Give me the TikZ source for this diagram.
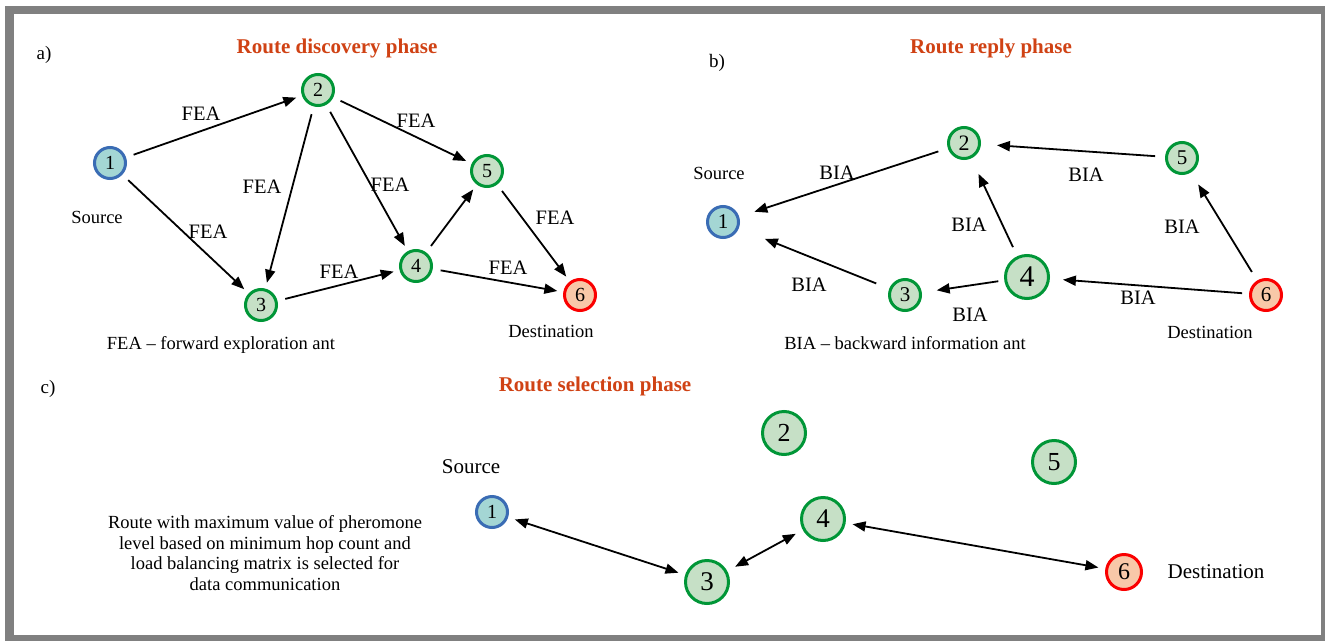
\documentclass[tikz,border=0pt]{standalone}
\usepackage{fontspec}
\setmainfont{LiberationSerif}[Extension=.ttf, UprightFont=*-Regular, BoldFont=*-Bold, ItalicFont=*-Italic, BoldItalicFont=*-BoldItalic]
\usetikzlibrary{arrows.meta}
\definecolor{framegray}{RGB}{128,128,128}
\definecolor{titlered}{RGB}{208,66,20}
\definecolor{gline}{RGB}{0,150,55}
\definecolor{gfill}{RGB}{198,224,198}
\definecolor{bline}{RGB}{58,108,180}
\definecolor{bfill}{RGB}{164,214,212}
\definecolor{rline}{RGB}{250,0,0}
\definecolor{rfill}{RGB}{248,200,168}
\begin{document}
\begin{tikzpicture}[x=1pt,y=-1pt,
  fs/.style={font=\fontsize{#1}{#1}\selectfont},
  nd/.style={circle, line width=3pt, inner sep=0pt, minimum size=#1},
  relay/.style={nd=#1, draw=gline, fill=gfill},
  srcnode/.style={nd=#1, draw=bline, fill=bfill},
  dstnode/.style={nd=#1, draw=rline, fill=rfill},
  ant/.style={line width=1.8pt, -{Triangle[length=13pt,width=10pt]}},
  route/.style={line width=1.8pt, {Triangle[length=13pt,width=10pt]}-{Triangle[length=13pt,width=10pt]}, shorten <=7pt, shorten >=7pt},
  lbl/.style={fs=20.5},
  txt/.style={fs=18.5},
  phase/.style={font=\fontsize{21}{25}\selectfont\bfseries, text=titlered}]

% frame
\useasboundingbox (0,0) rectangle (1325,640);
\fill[framegray] (5,6) rectangle (1330,645);
\fill[white] (14,14) rectangle (1321,635);

% ---------- a) route discovery ----------
\node[txt, fs=19] (la) at (44,55) {a)};
\node[phase] (ta) at (337,48) {Route discovery phase};
\node[srcnode=31, fs=20] (a1) at (110,163) {1};
\node[relay=31, fs=20] (a2) at (318,90) {2};
\node[relay=31, fs=20] (a3) at (261,305) {3};
\node[relay=31, fs=20] (a4) at (416,266) {4};
\node[relay=31, fs=20] (a5) at (487,171) {5};
\node[dstnode=31, fs=20] (a6) at (580,295) {6};
\node[txt] (asrc) at (97,217) {Source};
\node[txt] (adst) at (551,331) {Destination};
\node[txt] (akey) at (221,345) {FEA -- forward exploration ant};

\begin{scope}[shorten <=8pt, shorten >=6pt]
\draw[ant] (a1) -- (a2);
\draw[ant] (a2) -- (a5);
\draw[ant] (a2) -- (a3);
\draw[ant] (a2) -- (a4);
\draw[ant] (a1) -- (a3);
\draw[ant] (a3) -- (a4);
\draw[ant] (a4) -- (a5);
\draw[ant] (a4) -- (a6);
\draw[ant] (a5) -- (a6);
\end{scope}
\node[lbl] (f12) at (201,114) {FEA};
\node[lbl] (f25) at (416,121) {FEA};
\node[lbl] (f23) at (262,187) {FEA};
\node[lbl] (f24) at (390,185) {FEA};
\node[lbl] (f13) at (208,232) {FEA};
\node[lbl] (f34) at (339,272) {FEA};
\node[lbl] (f46) at (508,268) {FEA};
\node[lbl] (f56) at (555,218) {FEA};

% ---------- b) route reply ----------
\node[txt, fs=19] (lb) at (717,63) {b)};
\node[phase] (tb) at (991,48) {Route reply phase};
\node[srcnode=31, fs=21] (b1) at (723,222) {1};
\node[relay=31, fs=22] (b2) at (964,143) {2};
\node[relay=31, fs=21] (b3) at (905,295) {3};
\node[relay=43, fs=30] (b4) at (1027,277) {4};
\node[relay=31, fs=21] (b5) at (1182,158) {5};
\node[dstnode=31, fs=21] (b6) at (1266,295) {6};
\node[txt] (bsrc) at (719,173) {Source};
\node[txt] (bdst) at (1210,332) {Destination};
\node[txt] (bkey) at (905,343) {BIA -- backward information ant};

\begin{scope}[shorten <=10pt, shorten >=16pt]
\draw[ant] (b2) -- (b1);
\draw[ant] (b5) -- (b2);
\draw[ant, shorten >=17pt] (b4) -- (b2);
\draw[ant, shorten >=14pt] (b6) -- (b5);
\draw[ant, shorten <=7pt, shorten >=13pt] (b6) -- (b4);
\draw[ant, shorten <=6pt, shorten >=15pt] (b4) -- (b3);
\draw[ant, shorten <=14pt, shorten >=28pt] (b3) -- (b1);
\end{scope}
\node[lbl] (i21) at (837,173) {BIA};
\node[lbl] (i52) at (1086,175) {BIA};
\node[lbl] (i42) at (969,225) {BIA};
\node[lbl] (i65) at (1182,227) {BIA};
\node[lbl] (i31) at (809,285) {BIA};
\node[lbl] (i43) at (970,315) {BIA};
\node[lbl] (i64) at (1138,298) {BIA};

% ---------- c) route selection ----------
\node[txt, fs=19] (lc) at (48,389) {c)};
\node[phase] (tc) at (595,386) {Route selection phase};
\node[srcnode=31, fs=20] (c1) at (492,512) {1};
\node[relay=43, fs=26] (c2) at (784,433) {2};
\node[relay=43, fs=27] (c3) at (707,582) {3};
\node[relay=43, fs=27] (c4) at (823,519) {4};
\node[relay=43, fs=26] (c5) at (1054,462) {5};
\node[dstnode=35, fs=24] (c6) at (1124,572) {6};
\node[txt, fs=21] (csrc) at (471,467) {Source};
\node[txt, fs=21] (cdst) at (1216,572) {Destination};
\node[txt, align=center, font=\fontsize{18.5}{20.5}\selectfont] (cnote) at (265,553)
  {Route with maximum value of pheromone\\level based on minimum hop count and\\load balancing matrix is selected for\\data communication};

\draw[route] (c1) -- (c3);
\draw[route, shorten <=9pt, shorten >=8pt] (c3) -- (c4);
\draw[route] (c4) -- (c6);
\end{tikzpicture}
\end{document}
